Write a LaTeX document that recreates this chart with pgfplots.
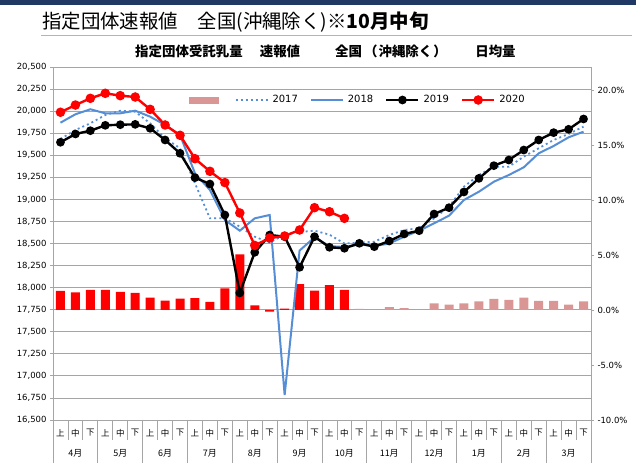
\documentclass[border=0pt]{standalone}
\usepackage{fontspec}
\setmainfont{DejaVu Sans}
\newfontfamily\jp{Noto Sans CJK JP}
\usepackage{pgfplots}
\usepackage{pgfplotstable}
\pgfplotsset{compat=1.18}
\definecolor{navy}{RGB}{31,56,100}
\definecolor{framec}{RGB}{180,180,180}
\definecolor{gridc}{RGB}{165,165,165}
\definecolor{blue18}{RGB}{85,142,213}
\definecolor{pinkbar}{RGB}{217,150,148}
\definecolor{redbar}{RGB}{255,0,0}

\pgfplotstableread{
x y
0 19684
1 19786
2 19862
3 19956
4 20005
5 19993
6 19862
7 19692
8 19579
9 19182
10 18785
11 18785
12 18691
13 18577
14 18510
15 18600
16 18630
17 18645
18 18600
19 18500
20 18510
21 18521
22 18596
23 18653
24 18672
25 18785
26 18917
27 19144
28 19276
29 19370
30 19370
31 19484
32 19579
33 19673
34 19741
35 19824
}\ysev
\pgfplotstableread{
x y
0 19869
1 19964
2 20021
3 19975
4 19975
5 20005
6 19937
7 19843
8 19729
9 19295
10 19106
11 18766
12 18645
13 18785
14 18823
15 16783
16 18420
17 18570
18 18470
19 18460
20 18490
21 18470
22 18500
23 18577
24 18645
25 18729
26 18815
27 18993
28 19087
29 19200
30 19276
31 19363
32 19522
33 19605
34 19703
35 19767
}\yeig
\pgfplotstableread{
x y
0 19647
1 19741
2 19778
3 19839
4 19846
5 19850
6 19805
7 19673
8 19522
9 19246
10 19174
11 18823
12 17940
13 18400
14 18596
15 18577
16 18230
17 18577
18 18457
19 18446
20 18502
21 18464
22 18528
23 18608
24 18645
25 18834
26 18906
27 19084
28 19238
29 19382
30 19446
31 19559
32 19673
33 19756
34 19794
35 19911
}\ynin
\pgfplotstableread{
x y
0 19987
1 20069
2 20145
3 20202
4 20175
5 20160
6 20020
7 19843
8 19726
9 19461
10 19318
11 19190
12 18846
13 18478
14 18562
15 18585
16 18653
17 18906
18 18860
19 18785
}\ytwe
\pgfplotstableread{
x y
0 1.73
1 1.61
2 1.82
3 1.82
4 1.64
5 1.55
6 1.12
7 0.85
8 1.03
9 1.09
10 0.73
11 1.97
12 5.06
13 0.42
14 -0.15
15 0.12
16 2.36
17 1.76
18 2.26
19 1.83
}\barred
\pgfplotstableread{
x y
20 0.10
21 0.03
22 0.27
23 0.18
24 0.03
25 0.61
26 0.48
27 0.61
28 0.79
29 1.00
30 0.91
31 1.12
32 0.82
33 0.82
34 0.48
35 0.79
}\barpink

\begin{document}
\begin{tikzpicture}[x=1bp,y=1bp]
\useasboundingbox (0,0) rectangle (636,463);
\fill[navy] (0,458) rectangle (636,463);
\draw[framec, line width=0.8bp] (41,428) -- (632,428);
\node[anchor=west, inner sep=0, font=\jp\fontsize{19.5}{20}\selectfont] at (42,441) {指定団体速報値　全国(沖縄除く)\textbf{※10月中旬}};
\begin{scope}[every node/.style={inner sep=0, font=\jp\bfseries\fontsize{13.5}{14}\selectfont}]
\node at (189,412) {指定団体受託乳量};
\node at (280,412) {速報値};
\node at (391,412) {全国\kern2bp（\kern1bp 沖縄除く\kern1bp）};
\node at (495.5,412) {日均量};
\end{scope}

% axis 1: grid and left axis
\begin{axis}[
  at={(53bp,43bp)}, anchor=south west, width=538bp, height=353bp, scale only axis,
  xmin=-0.5, xmax=35.5, ymin=16500, ymax=20500,
  ytick distance=250, xtick=\empty,
  scaled y ticks=false,
  ymajorgrids, grid style={gridc, line width=0.8bp},
  axis line style={gridc, line width=0.8bp},
  tick align=outside, major tick length=3bp, tick style={gridc, line width=0.8bp},
  yticklabel={\pgfmathprintnumber[fixed,precision=0,1000 sep={,},assume math mode=true]{\tick}},
  yticklabel style={font=\fontsize{8.5}{9}\selectfont},
  axis y line*=left, axis x line*=bottom,
]
\end{axis}

% axis 2: bars on the right scale
\begin{axis}[
  at={(53bp,43bp)}, anchor=south west, width=538bp, height=353bp, scale only axis,
  xmin=-0.5, xmax=35.5, ymin=-10, ymax=22.0909,
  axis x line=none, axis y line*=right,
  ytick={-10,-5,0,5,10,15,20},
  axis line style={gridc, line width=0.8bp},
  tick align=outside, major tick length=3bp, tick style={gridc, line width=0.8bp},
  yticklabel={\pgfmathprintnumber[fixed,fixed zerofill,precision=1,assume math mode=true]{\tick}\%},
  yticklabel style={font=\fontsize{8.5}{9}\selectfont},
]
\addplot[ybar, bar width=9bp, bar shift=0pt, fill=redbar, draw=none] table {\barred};
\addplot[ybar, bar width=9bp, bar shift=0pt, fill=pinkbar, draw=none] table {\barpink};
\end{axis}

% axis 3: lines on the left scale
\begin{axis}[
  at={(53bp,43bp)}, anchor=south west, width=538bp, height=353bp, scale only axis,
  xmin=-0.5, xmax=35.5, ymin=16500, ymax=20500,
  hide axis,
  legend columns=5,
  legend image code/.code={\draw[mark repeat=2,mark phase=2,#1] plot coordinates {(0bp,0bp) (16bp,0bp) (32bp,0bp)};},
  legend style={at={(0.567,0.9065)}, anchor=center, draw=none, fill=white,
    font=\fontsize{10}{11}\selectfont, inner xsep=3bp, inner ysep=2bp,
    /tikz/every odd column/.style={column sep=2bp},
    /tikz/every even column/.style={column sep=10bp}},
]
\addlegendimage{legend image code/.code={\fill[pinkbar] (0bp,-3bp) rectangle (29bp,3bp);}}
\addlegendentry{}
\addplot[blue18, line width=1.8bp, dash pattern=on 2bp off 3bp] table {\ysev};
\addlegendentry{2017}
\addplot[blue18, line width=2bp] table {\yeig};
\addlegendentry{2018}
\addplot[black, line width=2.4bp, mark=*, mark size=3.1bp, mark options={solid}] table {\ynin};
\addlegendentry{2019}
\addplot[red, line width=2.4bp, mark=*, mark size=3.5bp, mark options={solid}] table {\ytwe};
\addlegendentry{2020}
\end{axis}

% multi-level category labels
\foreach \k in {0,...,36} \draw[gridc, line width=0.8bp] ({53+14.9444*\k},43) -- ++(0,-20);
\foreach \m in {0,...,12} \draw[gridc, line width=0.8bp] ({53+44.8333*\m},43) -- ++(0,-45);
\foreach \m in {0,...,11} {
  \foreach \s [count=\j from 0] in {上,中,下} {
    \node[inner sep=0, font=\jp\fontsize{8.5}{9}\selectfont] at ({53+14.9444*(3*\m+\j+0.5)},30) {\s};
  }
}
\foreach \t [count=\m from 0] in {4月,5月,6月,7月,8月,9月,10月,11月,12月,1月,2月,3月}
  \node[inner sep=0, font=\jp\fontsize{9}{10}\selectfont] at ({53+44.8333*\m+22.4167},10) {\t};
\end{tikzpicture}
\end{document}
